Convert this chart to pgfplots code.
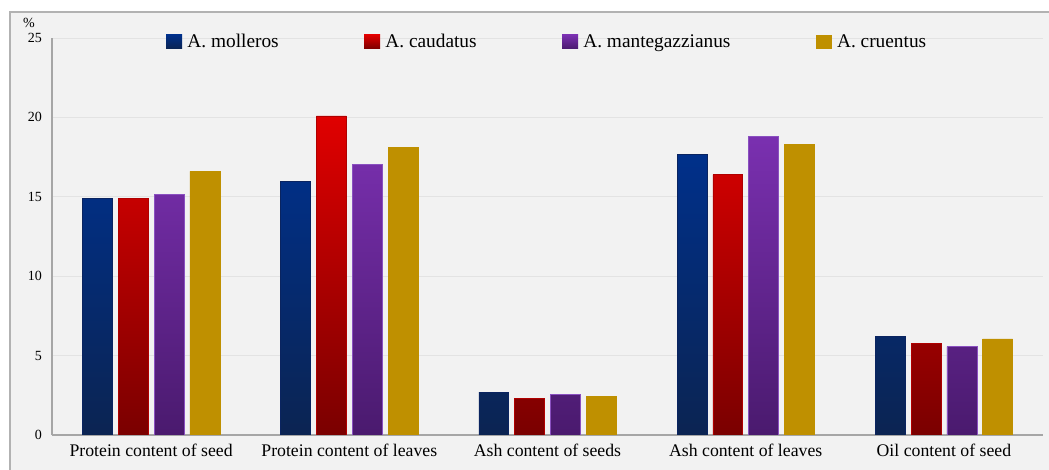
\documentclass[border=0pt]{standalone}
\usepackage{pgfplots}
\pgfplotsset{compat=1.18}
\usepackage{fontspec}
\setmainfont{Liberation Serif}
\definecolor{bg}{HTML}{F2F2F2}
\definecolor{blueT}{HTML}{00308A}
\definecolor{blueB}{HTML}{0B2452}
\definecolor{blueD}{HTML}{0A2460}
\definecolor{redT}{HTML}{E00000}
\definecolor{redB}{HTML}{7A0000}
\definecolor{redD}{HTML}{B00000}
\definecolor{purT}{HTML}{7A30B0}
\definecolor{purB}{HTML}{4A1A6E}
\definecolor{purD}{HTML}{8A50C0}
\definecolor{gold}{HTML}{BF9000}
\begin{document}
\begin{tikzpicture}[x=0.75pt,y=0.75pt]
\path[use as bounding box] (-52,-35) rectangle (997,435);
\fill[white] (-52,-35) rectangle (997,435);
\filldraw[fill=bg, draw=gray!60, line width=1.2pt] (-42,-60) rectangle (1020,423);
\node[font=\fontsize{10.5}{12}\selectfont] at (-23,412) {\%};
\begin{axis}[
  at={(0,0)}, anchor=south west, scale only axis,
  width=743.25pt, height=297.75pt,
  xmin=-0.5, xmax=4.5, ymin=0, ymax=25,
  ytick={0,5,10,15,20,25},
  xtick={0,1,2,3,4},
  xticklabels={Protein content of seed, Protein content of leaves, Ash content of seeds, Ash content of leaves, Oil content of seed},
  axis lines*=left,
  axis line style={gray!70, line width=0.8pt},
  major tick length=0pt,
  ymajorgrids, grid style={gray!22, line width=0.6pt},
  /pgf/number format/assume math mode=true,
  yticklabel style={font=\fontsize{10.5}{12}\selectfont, xshift=-4pt},
  xticklabel style={font=\fontsize{13.3}{15}\selectfont, yshift=-3pt},
  legend columns=4,
  legend style={at={(0.5,0.99)}, anchor=center, draw=none, fill=none,
    font=\fontsize{14.5}{16}\selectfont,
    /tikz/every odd column/.append style={column sep=2pt},
    /tikz/every even column/.append style={column sep=62pt}},
  legend image code/.code={\path[#1, draw=none] (0pt,-5.25pt) rectangle (12pt,5.25pt);},
]
\addplot[ybar, bar width=0.1508, bar shift=-0.2712, draw=blueD, bottom color=blueB, middle color=blueT!85!blueB, top color=blueT]
  coordinates {(0,14.9) (1,15.95) (2,2.7) (3,17.65) (4,6.2)};
\addlegendentry{A. molleros}
\addplot[ybar, bar width=0.1508, bar shift=-0.0904, draw=redD, bottom color=redB, middle color=redT!85!redB, top color=redT]
  coordinates {(0,14.9) (1,20.1) (2,2.3) (3,16.4) (4,5.75)};
\addlegendentry{A. caudatus}
\addplot[ybar, bar width=0.1508, bar shift=0.0904, draw=purD, bottom color=purB, middle color=purT!85!purB, top color=purT]
  coordinates {(0,15.15) (1,17.05) (2,2.55) (3,18.8) (4,5.56)};
\addlegendentry{A. mantegazzianus}
\addplot[ybar, bar width=0.1508, bar shift=0.2712, draw=gold, fill=gold]
  coordinates {(0,16.6) (1,18.1) (2,2.42) (3,18.3) (4,6.05)};
\addlegendentry{A. cruentus}
\end{axis}
\end{tikzpicture}
\end{document}
